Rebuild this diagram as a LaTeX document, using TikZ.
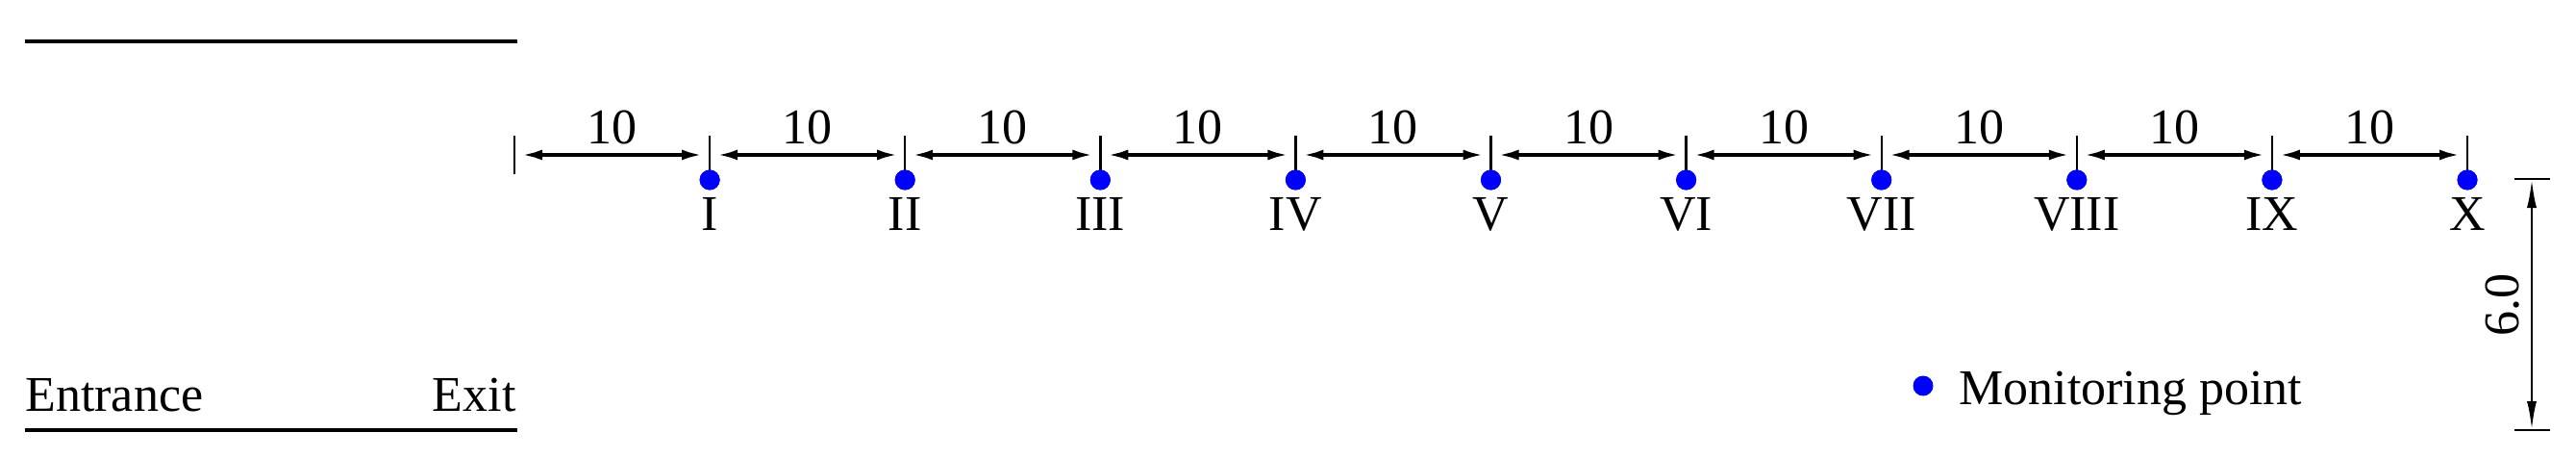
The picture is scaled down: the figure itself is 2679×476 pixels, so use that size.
\documentclass[tikz,border=0pt]{standalone}
\usepackage{fontspec}
\setmainfont{Liberation Serif}
\usetikzlibrary{arrows.meta}
\begin{document}
\begin{tikzpicture}[x=0.5pt,y=-0.5pt,
  wall/.style={line width=2.4pt},
  dimline/.style={line width=2pt,shorten >=3.5pt,shorten <=3.5pt,{Latex[length=11pt,width=5.5pt]}-{Latex[length=11pt,width=5.5pt]}},
  vdim/.style={line width=1.3pt,{Latex[length=15pt,width=5pt]}-{Latex[length=15pt,width=5pt]}},
  tickline/.style={line width=1.2pt},
  mpoint/.style={circle,fill=blue,inner sep=0pt,minimum size=10.5pt},
  lbl/.style={inner sep=0pt,anchor=base,font=\fontsize{26}{30}\selectfont},
]
\useasboundingbox (0,0) rectangle (2679,476);
% walls
\coordinate (wtl) at (26,43);
\coordinate (wtr) at (538,43);
\coordinate (wbl) at (26,447);
\coordinate (wbr) at (538,447);
\draw[wall] (wtl) -- (wtr);
\draw[wall] (wbl) -- (wbr);
\node[lbl,anchor=base west] (entr) at (26,427) {Entrance};
\node[lbl,anchor=base east] (exit) at (537,427) {Exit};
% ticks and points
\foreach \i in {0,...,10}{
  \coordinate (t\i) at ({535+\i*203.1},161);
  \coordinate (tt\i) at ({535+\i*203.1},141);
}
\draw[tickline] (tt0) -- ++(0,40);
\foreach \i/\r in {1/I,2/II,3/III,4/IV,5/V,6/VI,7/VII,8/VIII,9/IX,10/X}{
  \node[mpoint] (p\i) at ({535+\i*203.1},187) {};
  \draw[tickline] (tt\i) -- (p\i.center);
  \node[mpoint] at (p\i) {};
  \node[lbl] (r\i) at ({535+\i*203.1},239) {\r};
}
\foreach \i [evaluate=\i as \j using int(\i+1)] in {0,...,9}{
  \draw[dimline] (t\i) -- (t\j);
  \node[lbl] (d\i) at ({535+(\i+0.5)*203.1},149) {10};
}
% vertical dimension
\coordinate (v1) at (2633,186);
\coordinate (v2) at (2633,447);
\draw[tickline] (2615,186) -- (2652,186);
\draw[tickline] (2615,447) -- (2652,447);
\draw[vdim] (v1) -- (v2);
\node[inner sep=0pt,rotate=90,font=\fontsize{26}{30}\selectfont] (dim6) at (2603,317) {6.0};
% legend
\node[mpoint] (leg) at (2000,401) {};
\node[lbl,anchor=base west] (legt) at (2037,420) {Monitoring point};
\end{tikzpicture}
\end{document}
